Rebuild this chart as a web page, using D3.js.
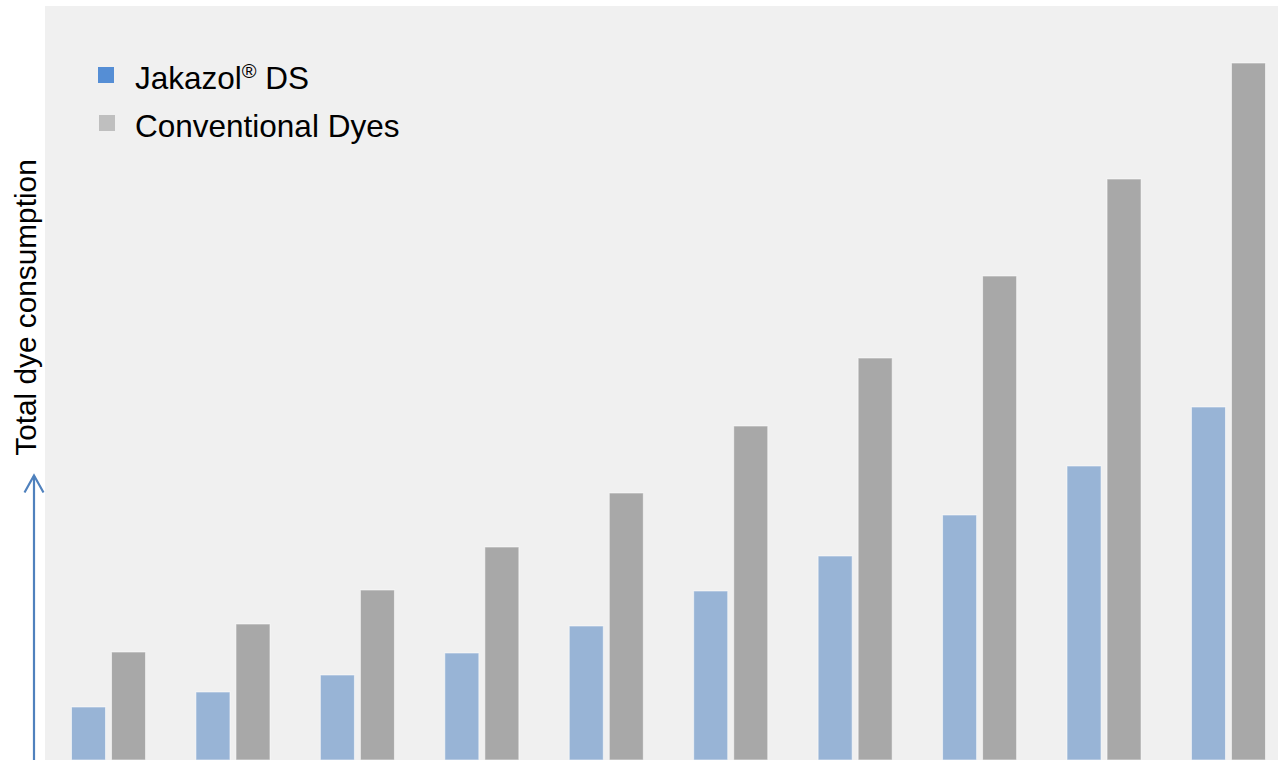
<!DOCTYPE html>
<html><head><meta charset="utf-8">
<script src="https://cdn.jsdelivr.net/npm/d3@7"></script>
<style>html,body{margin:0;padding:0;background:#fff;overflow:hidden}svg{display:block}</style>
</head><body>
<script>
const categories = ["1","2","3","4","5","6","7","8","9","10"];
const seriesNames = ["Jakazol® DS","Conventional Dyes"];
const jakazol = [53, 68, 85, 107, 134, 169, 204, 245, 294, 353];
const conventional = [108, 136, 170, 213, 267, 334, 402, 484, 581, 697];
const yLabel = "Total dye consumption";

const W = 1278, H = 760;
const svg = d3.select("body").append("svg").attr("width", W).attr("height", H);

const panel = {x: 45, y: 6, w: W - 45, h: H - 6};
svg.append("rect").attr("x", panel.x).attr("y", panel.y).attr("width", panel.w).attr("height", panel.h).attr("fill", "#f0f0f0");

const x = d3.scaleBand().domain(categories).range([46.3, 1290.7]).paddingInner(0.405).paddingOuter(0.2025);
const xs = d3.scaleBand().domain(seriesNames).range([0, x.bandwidth()]).paddingInner(0.15);
const y = d3.scaleLinear().domain([0, 754]).range([760, 6]);

const data = categories.map((c, i) => ({c, vals: [jakazol[i], conventional[i]]}));
const barColors = ["#98b4d6", "#a8a8a8"];

const g = svg.append("g");
const groups = g.selectAll("g.grp").data(data).join("g").attr("class","grp")
  .attr("transform", d => `translate(${x(d.c)},0)`);
groups.selectAll("rect").data(d => d.vals.map((v, j) => ({v, s: seriesNames[j], j})))
  .join("rect")
  .attr("x", d => xs(d.s)).attr("width", xs.bandwidth())
  .attr("y", d => y(d.v)).attr("height", d => y(0) - y(d.v))
  .attr("fill", d => barColors[d.j])
  .attr("stroke", "rgba(255,255,255,0.55)").attr("stroke-width", 1);

// legend
const legendColors = ["#558ed5", "#bfbfbf"];
const lg = svg.append("g");
seriesNames.forEach((name, i) => {
  const yy = 74 + i * 48;
  lg.append("rect").attr("x", 98 + i).attr("y", yy - 7).attr("width", 16).attr("height", 16).attr("fill", legendColors[i]);
  const t = lg.append("text").attr("x", 135).attr("y", yy + 15).attr("font-family", "Liberation Sans, Arial, sans-serif")
    .attr("font-size", 31.5).attr("fill", "#000");
  if (name.includes("®")) {
    const parts = name.split("®");
    t.append("tspan").text(parts[0]);
    t.append("tspan").text("®").attr("font-size", 20).attr("dy", -11);
    t.append("tspan").text(parts[1]).attr("dy", 11);
  } else t.text(name);
});

// y label
svg.append("text").attr("transform", "translate(36,307.5) rotate(-90)").attr("text-anchor", "middle")
  .attr("font-family", "Liberation Sans, Arial, sans-serif").attr("font-size", 29.8).attr("fill", "#000").text(yLabel);

// arrow
const arrowColor = "#4f81bd";
svg.append("line").attr("x1", 34).attr("x2", 34).attr("y1", 760).attr("y2", 476).attr("stroke", arrowColor).attr("stroke-width", 2.2);
svg.append("path").attr("d", "M24.5,492.5 L34,475.5 L43.5,492.5").attr("fill", "none").attr("stroke", arrowColor).attr("stroke-width", 2.2);
</script>
</body></html>
